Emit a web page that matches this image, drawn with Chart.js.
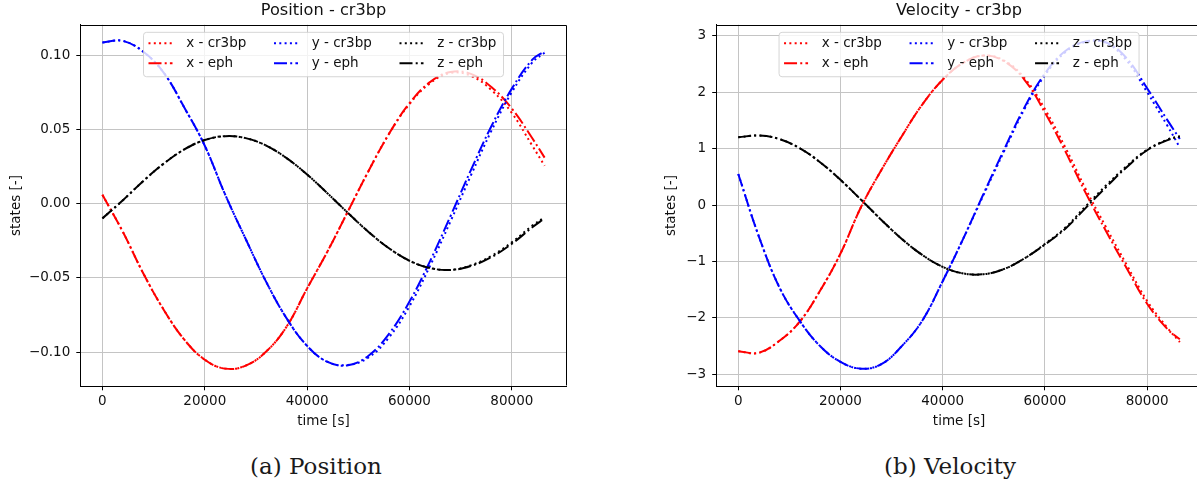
<!DOCTYPE html>
<html>
<head>
<meta charset="utf-8">
<script src="https://cdn.jsdelivr.net/npm/chart.js@4.4.0/dist/chart.umd.min.js"></script>
<style>
  html, body { margin:0; padding:0; background:#fff; overflow:hidden; }
  body { width:1197px; height:486px; position:relative; }
  canvas { position:absolute; top:0; }
  #posChart { left:0; }
  #velChart { left:660px; }
  .caption { position:absolute; top:453px; font-family:"DejaVu Serif", serif; font-size:23px; color:#1a1a1a; transform:translateX(-50%); white-space:nowrap; }
</style>
</head>
<body>
<canvas id="posChart" width="600" height="440"></canvas>
<canvas id="velChart" width="560" height="440"></canvas>
<div class="caption" style="left:316px">(a) Position</div>
<div class="caption" style="left:950px">(b) Velocity</div>
<script>
/* ===== Data ===== */
const time = [0, 4000, 8000, 12000, 16000, 20000, 24000, 28000, 32000, 36000, 40000, 44000,
              48000, 52000, 56000, 60000, 64000, 68000, 72000, 76000, 80000, 84000, 86400];

const timeTicks = [0, 20000, 40000, 60000, 80000];
const posTicks  = [-0.10, -0.05, 0.00, 0.05, 0.10];
const velTicks  = [-3, -2, -1, 0, 1, 2, 3];

const labels = ["x - cr3bp", "x - eph", "y - cr3bp", "y - eph", "z - cr3bp", "z - eph"];

// position
const posX_cr3bp = [0.006, -0.019, -0.047, -0.0715, -0.0915, -0.105, -0.111, -0.109, -0.0995, -0.0827, -0.057, -0.032,
                    -0.005, 0.022, 0.047, 0.067, 0.081, 0.088, 0.086, 0.0765, 0.061, 0.039, 0.0255];
const posX_eph   = [0.006, -0.019, -0.047, -0.0715, -0.0915, -0.105, -0.111, -0.109, -0.0995, -0.0827, -0.057, -0.032,
                    -0.005, 0.022, 0.047, 0.0676, 0.0818, 0.0886, 0.0873, 0.0785, 0.064, 0.044, 0.031];
const posY_cr3bp = [0.1085, 0.1095, 0.1022, 0.088, 0.0647, 0.039, 0.006, -0.0238, -0.0526, -0.0772, -0.0957, -0.1065,
                    -0.1085, -0.1035, -0.090, -0.069, -0.042, -0.012, 0.019, 0.049, 0.075, 0.095, 0.1015];
const posY_eph   = [0.1085, 0.1095, 0.1022, 0.088, 0.0647, 0.039, 0.006, -0.0238, -0.0526, -0.0772, -0.0957, -0.1065,
                    -0.1087, -0.1023, -0.0876, -0.0659, -0.0388, -0.0085, 0.0226, 0.0521, 0.0774, 0.0969, 0.1025];
const posZ_cr3bp = [-0.0099, 0.0023, 0.0153, 0.027, 0.0365, 0.0428, 0.0454, 0.0441, 0.0391, 0.0306, 0.0196, 0.0069,
                    -0.0063, -0.019, -0.030, -0.0384, -0.0433, -0.0446, -0.0415, -0.0352, -0.026, -0.0148, -0.0092];
const posZ_eph   = [-0.0099, 0.0023, 0.0153, 0.027, 0.0365, 0.0428, 0.0454, 0.0441, 0.0391, 0.0306, 0.0196, 0.0069,
                    -0.0063, -0.019, -0.030, -0.0384, -0.0433, -0.0446, -0.0419, -0.036, -0.027, -0.0159, -0.0099];

// velocity
const velX_cr3bp = [-2.59, -2.62, -2.41, -2.07, -1.52, -0.86, -0.04, 0.62, 1.22, 1.78, 2.22, 2.52,
                    2.65, 2.56, 2.25, 1.70, 1.02, 0.28, -0.40, -1.06, -1.70, -2.18, -2.43];
const velX_eph   = [-2.59, -2.62, -2.41, -2.07, -1.52, -0.86, -0.04, 0.62, 1.22, 1.78, 2.22, 2.52,
                    2.65, 2.55, 2.22, 1.64, 0.95, 0.21, -0.47, -1.12, -1.75, -2.20, -2.38];
const velY_cr3bp = [0.55, -0.55, -1.45, -2.05, -2.50, -2.78, -2.90, -2.82, -2.50, -2.05, -1.35, -0.60,
                    0.18, 0.95, 1.70, 2.30, 2.71, 2.89, 2.87, 2.56, 2.00, 1.40, 1.02];
const velY_eph   = [0.55, -0.55, -1.45, -2.05, -2.50, -2.78, -2.90, -2.82, -2.50, -2.05, -1.35, -0.60,
                    0.20, 0.98, 1.73, 2.33, 2.73, 2.90, 2.88, 2.60, 2.07, 1.50, 1.17];
const velZ_cr3bp = [1.20, 1.232, 1.17, 1.007, 0.759, 0.446, 0.095, -0.264, -0.601, -0.885, -1.096, -1.212,
                    -1.226, -1.134, -0.946, -0.69, -0.40, -0.02, 0.35, 0.69, 0.98, 1.16, 1.22];
const velZ_eph   = [1.20, 1.232, 1.17, 1.007, 0.759, 0.446, 0.095, -0.264, -0.601, -0.885, -1.096, -1.212,
                    -1.226, -1.134, -0.946, -0.70, -0.42, -0.05, 0.32, 0.67, 0.97, 1.15, 1.215];

/* ===== Helpers ===== */
const FONT = "DejaVu Sans";
const TXT = "#111";
const DOT = [2, 3.3];
const DASHDOT = [13, 3.2, 2, 3.2];
const colors = ["#ff0000", "#ff0000", "#0000ff", "#0000ff", "#000000", "#000000"];

function series(vals){ return time.map((t, i) => ({ x: t, y: vals[i] })); }

function makeDatasets(lists){
  return lists.map((vals, i) => ({
    label: labels[i],
    data: series(vals),
    borderColor: colors[i],
    borderWidth: 2,
    borderDash: i % 2 === 0 ? DOT : DASHDOT,
    borderCapStyle: "butt",
    pointRadius: 0,
    tension: 0.4,
    fill: false,
    order: lists.length - i
  }));
}

const minus = s => s.replace("-", "\u2212");

// matplotlib-like boxed legend, 3 columns x 2 rows, upper center
const boxLegend = {
  id: "boxLegend",
  afterDatasetsDraw(chart){
    const { ctx, chartArea: a } = chart;
    const w = 360, h = 44.4, r = 3;
    const L = (a.left + a.right) / 2 - w / 2, T = a.top + 7.6;
    ctx.save();
    ctx.beginPath();
    ctx.moveTo(L + r, T);
    ctx.arcTo(L + w, T, L + w, T + h, r);
    ctx.arcTo(L + w, T + h, L, T + h, r);
    ctx.arcTo(L, T + h, L, T, r);
    ctx.arcTo(L, T, L + w, T, r);
    ctx.closePath();
    ctx.fillStyle = "rgba(255,255,255,0.8)";
    ctx.fill();
    ctx.strokeStyle = "rgba(204,204,204,0.8)";
    ctx.lineWidth = 1;
    ctx.stroke();
    ctx.font = `13.5px "${FONT}"`;
    ctx.textBaseline = "middle";
    chart.data.datasets.forEach((ds, i) => {
      const col = Math.floor(i / 2), row = i % 2;
      const y = T + 11 + row * 20;
      const hx = L + 5 + col * 125.5;
      ctx.beginPath();
      ctx.setLineDash(ds.borderDash);
      ctx.lineCap = "butt";
      ctx.strokeStyle = ds.borderColor;
      ctx.lineWidth = ds.borderWidth;
      ctx.moveTo(hx, y); ctx.lineTo(hx + 24, y);
      ctx.stroke();
      ctx.setLineDash([]);
      ctx.fillStyle = TXT;
      ctx.fillText(ds.label, hx + 37.7, y);
    });
    ctx.restore();
  }
};

// top + right spines
const frame = {
  id: "frame",
  afterDraw(chart){
    const { ctx, chartArea: a } = chart;
    ctx.save();
    ctx.strokeStyle = "#000";
    ctx.lineWidth = 1;
    const l = Math.round(a.left) + 0.5, t = Math.round(a.top) + 0.5;
    const r = Math.round(a.right) - 0.5, b = Math.round(a.bottom) - 0.5;
    ctx.beginPath();
    ctx.moveTo(l, t); ctx.lineTo(r, t); ctx.lineTo(r, b);
    ctx.stroke();
    ctx.restore();
  }
};

function makeChart(id, opts){
  const tickFont = { family: FONT, size: 13.5 };
  return new Chart(document.getElementById(id), {
    type: "line",
    data: { datasets: makeDatasets(opts.lists) },
    plugins: [boxLegend, frame],
    options: {
      responsive: false,
      animation: false,
      layout: { autoPadding: false, padding: { left: 0, top: 0, right: opts.padRight, bottom: 0 } },
      plugins: {
        legend: { display: false },
        tooltip: { enabled: false },
        title: {
          display: true, text: opts.title, fullSize: false, color: TXT,
          font: { family: FONT, size: 16.2, weight: "normal" },
          padding: { top: 1.5, bottom: 3.8 }
        }
      },
      scales: {
        x: {
          type: "linear", min: -4320, max: 90720,
          afterBuildTicks: s => { s.ticks = timeTicks.map(v => ({ value: v })); },
          afterFit: s => { s.height = 53.7; },
          grid: { color: "#c4c4c4", lineWidth: 1, tickLength: 4, tickColor: "#000" },
          border: { color: "#000", width: 1 },
          ticks: { color: TXT, font: tickFont, padding: 3, maxRotation: 0, autoSkip: false,
                   callback: v => String(v) },
          title: { display: true, text: "time [s]", color: TXT, font: tickFont,
                   padding: { top: 0, bottom: 10.9 } }
        },
        y: {
          type: "linear", min: opts.yMin, max: opts.yMax,
          afterBuildTicks: s => { s.ticks = opts.yTicks.map(v => ({ value: v })); },
          afterFit: s => { s.width = opts.yAxisW; },
          grid: { color: "#c4c4c4", lineWidth: 1, tickLength: 4, tickColor: "#000" },
          border: { color: "#000", width: 1 },
          ticks: { color: TXT, font: tickFont, padding: 6, autoSkip: false,
                   callback: v => minus(opts.fmt(v)) },
          title: { display: true, text: "states [-]", color: TXT, font: tickFont,
                   padding: { top: opts.yTitlePad, bottom: 0 } }
        }
      }
    }
  });
}

/* ===== Init ===== */
Chart.defaults.font.family = FONT;

makeChart("posChart", {
  title: "Position - cr3bp",
  lists: [posX_cr3bp, posX_eph, posY_cr3bp, posY_eph, posZ_cr3bp, posZ_eph],
  yMin: -0.1229, yMax: 0.1204, yTicks: posTicks,
  fmt: v => v.toFixed(2),
  yAxisW: 80.3, yTitlePad: 8.3, padRight: 33.3
});

makeChart("velChart", {
  title: "Velocity - cr3bp",
  lists: [velX_cr3bp, velX_eph, velY_cr3bp, velY_eph, velZ_cr3bp, velZ_eph],
  yMin: -3.213, yMax: 3.195, yTicks: velTicks,
  fmt: v => String(Math.round(v)),
  yAxisW: 56.2, yTitlePad: 3.5, padRight: 18.1
});
</script>
</body>
</html>
